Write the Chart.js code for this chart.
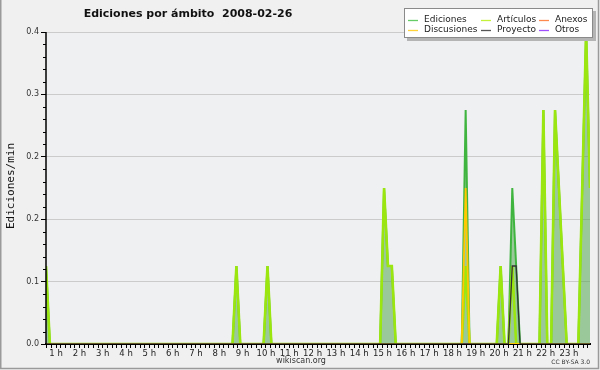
<!DOCTYPE html>
<html>
<head>
<meta charset="utf-8">
<script src="https://cdn.jsdelivr.net/npm/chart.js@4/dist/chart.umd.min.js"></script>
<style>
  html, body { margin: 0; padding: 0; background: #f0f0f0; }
  canvas { display: block; }
</style>
</head>
<body>
<canvas id="c" width="600" height="370" style="width:600px;height:370px"></canvas>
<script>
// ---- data ----
const chartTitle = 'Ediciones por ámbito  2008-02-26';
const yAxisTitle = 'Ediciones/min';
const seriesNames = ['Ediciones', 'Artículos', 'Anexos', 'Discusiones', 'Proyecto', 'Otros'];
const seriesColors = ['#3fb53f', '#9be60f', '#ff7a3a', '#ffc800', '#333333', '#9933ff'];
const legendColors = ['#66cc66', '#c4f23a', '#ff8a50', '#ffd23a', '#555555', '#a050ff'];

// sample times (10-minute bins) where the curves change
const times = ['00:34','00:44','08:34','08:44','08:54','09:54','10:04','10:14',
  '14:54','15:04','15:14','15:24','15:34','18:24','18:34','18:44',
  '19:54','20:04','20:14','20:24','20:34','20:44','20:54',
  '21:44','21:54','22:04','22:14','22:24','22:34','22:44','22:54',
  '23:24','23:34','23:44','23:54'];
const ediciones   = [0.1,0, 0,0.1,0, 0,0.1,0, 0,0.2,0.1,0.1,0, 0,0.3,0, 0,0.1,0, 0,0.2,0.1,0, 0,0.3,0, 0,0.3,0.2,0.1,0, 0,0.2,0.4,0.2];
const articulos   = [0.1,0, 0,0.1,0, 0,0.1,0, 0,0.2,0.1,0.1,0, 0,0.1,0, 0,0.1,0, 0,0.1,0,  0, 0,0.3,0, 0,0.3,0.2,0.1,0, 0,0.2,0.4,0.2];
const anexos      = [0,0, 0,0,0, 0,0,0, 0,0,0,0,0, 0,0,0, 0,0,0, 0,0,0,0, 0,0,0, 0,0,0,0,0, 0,0,0,0];
const discusiones = [0,0, 0,0,0, 0,0,0, 0,0,0,0,0, 0,0.2,0, 0,0,0, 0,0,0,0, 0,0,0, 0,0,0,0,0, 0,0,0,0];
const proyecto    = [0,0, 0,0,0, 0,0,0, 0,0,0,0,0, 0,0,0, 0,0,0, 0,0.1,0.1,0, 0,0,0, 0,0,0,0,0, 0,0,0,0];
const otros       = [0,0, 0,0,0, 0,0,0, 0,0,0,0,0, 0,0,0, 0,0,0, 0,0,0,0, 0,0,0, 0,0,0,0,0, 0,0,0,0];

const hourLabels = ['1 h','2 h','3 h','4 h','5 h','6 h','7 h','8 h','9 h','10 h','11 h','12 h',
  '13 h','14 h','15 h','16 h','17 h','18 h','19 h','20 h','21 h','22 h','23 h'];
const yTickValues = [0, 0.08, 0.16, 0.24, 0.32, 0.4];
const yTickLabels = ['0.0', '0.1', '0.2', '0.2', '0.3', '0.4'];
const xStartTime = '00:34';
const xEndTime = '23:54';

// ---- helpers ----
const toHours = s => { const [h, m] = s.split(':').map(Number); return h + m / 60; };
const pts = vals => times.map((t, i) => ({ x: toHours(t), y: vals[i] }));
const allSeries = [ediciones, articulos, anexos, discusiones, proyecto, otros];
const drawOrder = [5, 2, 3, 1, 0, 4];
const widths = [2, 2.6, 1.5, 1.8, 1.3, 1.5];

const datasets = allSeries.map((vals, i) => ({
  label: seriesNames[i],
  data: pts(vals),
  borderColor: seriesColors[i],
  borderWidth: widths[i],
  backgroundColor: i === 0 ? 'rgba(72,160,68,0.5)' : 'transparent',
  fill: i === 0 ? 'origin' : false,
  pointRadius: 0,
  tension: 0,
  order: drawOrder[i]
}));

const FONT = 'DejaVu Sans';

const decor = {
  id: 'decor',
  beforeDraw(chart) {
    const c = chart.ctx, a = chart.chartArea;
    c.save();
    c.fillStyle = '#f0f0f0';
    c.fillRect(0, 0, chart.width, chart.height);
    c.fillStyle = '#eef0f2';
    c.fillRect(a.left, a.top, a.right - a.left, a.bottom - a.top);
    c.restore();
  },
  afterDatasetsDraw(chart) {
    const c = chart.ctx, a = chart.chartArea, y = chart.scales.y;
    c.save();
    c.strokeStyle = '#000';
    c.lineWidth = 1.5;
    c.beginPath();
    c.moveTo(a.left, a.top);
    c.lineTo(a.left, a.bottom + 1);
    c.stroke();
    // minor y ticks
    c.lineWidth = 1;
    for (let k = 0; k <= 25; k++) {
      if (k % 5 === 0) continue;
      const py = Math.round(y.getPixelForValue(k * 0.016)) + 0.5;
      c.beginPath();
      c.moveTo(a.left - 3, py);
      c.lineTo(a.left, py);
      c.stroke();
    }
    c.restore();
  },
  afterDraw(chart) {
    const c = chart.ctx;
    c.save();
    // frame
    c.strokeStyle = '#9a9a9a';
    c.lineWidth = 1.5;
    c.beginPath();
    c.moveTo(0.75, 0); c.lineTo(0.75, 368.5); c.lineTo(598.5, 368.5); c.lineTo(598.5, 0);
    c.stroke();
    // title
    c.fillStyle = '#111';
    c.font = 'bold 11px "' + FONT + '"';
    c.textBaseline = 'middle';
    c.textAlign = 'center';
    c.fillText(chartTitle, 188, 14);
    // y axis title
    c.save();
    c.translate(11, 186);
    c.rotate(-Math.PI / 2);
    c.font = '11px "DejaVu Sans Mono"';
    c.fillStyle = '#111';
    c.fillText(yAxisTitle, 0, 0);
    c.restore();
    // credits
    c.font = '8px "' + FONT + '"';
    c.fillStyle = '#333';
    c.fillText('wikiscan.org', 301, 361);
    c.font = '6px "' + FONT + '"';
    c.textAlign = 'right';
    c.fillText('CC BY-SA 3.0', 590, 362);
    // legend
    c.fillStyle = '#b4b4b4';
    c.fillRect(407, 11, 189, 30);
    c.fillStyle = '#ffffff';
    c.fillRect(404, 8, 189, 30);
    c.strokeStyle = '#8a8a8a';
    c.lineWidth = 1;
    c.strokeRect(404.5, 8.5, 188, 29);
    const cols = [[408, 424], [481, 497], [539, 555]];
    const rows = [19.5, 29.5];
    const layout = [[0, 0, 0], [1, 0, 1], [2, 0, 2], [3, 1, 0], [4, 1, 1], [5, 1, 2]];
    c.font = '9px "' + FONT + '"';
    c.textAlign = 'left';
    layout.forEach(([si, r, col]) => {
      const yy = rows[r];
      c.strokeStyle = legendColors[si];
      c.lineWidth = 1.3;
      c.beginPath();
      c.moveTo(cols[col][0], Math.round(yy) + 0.5);
      c.lineTo(cols[col][0] + 10, Math.round(yy) + 0.5);
      c.stroke();
      c.fillStyle = '#222';
      c.fillText(seriesNames[si], cols[col][1], yy);
    });
    c.restore();
  }
};

new Chart(document.getElementById('c'), {
  type: 'line',
  data: { datasets },
  options: {
    responsive: false,
    animation: false,
    layout: { padding: { top: 32, right: 10, left: 0, bottom: 0 } },
    plugins: { legend: { display: false }, title: { display: false }, tooltip: { enabled: false } },
    scales: {
      x: {
        type: 'linear',
        min: toHours(xStartTime),
        max: toHours(xEndTime),
        z: 1,
        afterFit: s => { s.height = 26; },
        afterBuildTicks: s => {
          const ticks = [];
          for (let k = Math.ceil(s.min * 5 - 1e-9); k <= Math.floor(s.max * 5 + 1e-9); k++) ticks.push({ value: k / 5 });
          s.ticks = ticks;
        },
        grid: { drawOnChartArea: false, drawTicks: true, tickLength: 4, tickColor: '#000', tickWidth: 1 },
        border: { display: true, color: '#000', width: 2 },
        ticks: {
          autoSkip: false, maxRotation: 0, minRotation: 0, padding: 1,
          color: '#222',
          font: { family: FONT, size: 8.5 },
          callback: v => {
            const k = Math.round(v * 5);
            if (k % 5 !== 0) return '';
            return hourLabels[k / 5 - 1] || '';
          }
        }
      },
      y: {
        min: 0,
        max: 0.4,
        afterFit: s => { s.width = 46; },
        afterBuildTicks: s => { s.ticks = yTickValues.map(v => ({ value: v })); },
        grid: {
          color: ctx => (ctx.tick && ctx.tick.value > 0 ? '#cbcbcb' : 'transparent'),
          lineWidth: 1,
          drawTicks: true, tickLength: 5, tickColor: '#000'
        },
        border: { display: false },
        ticks: {
          padding: 2,
          color: '#333',
          font: { family: FONT, size: 8 },
          callback: (v, i) => yTickLabels[i]
        }
      }
    }
  },
  plugins: [decor]
});
</script>
</body>
</html>
